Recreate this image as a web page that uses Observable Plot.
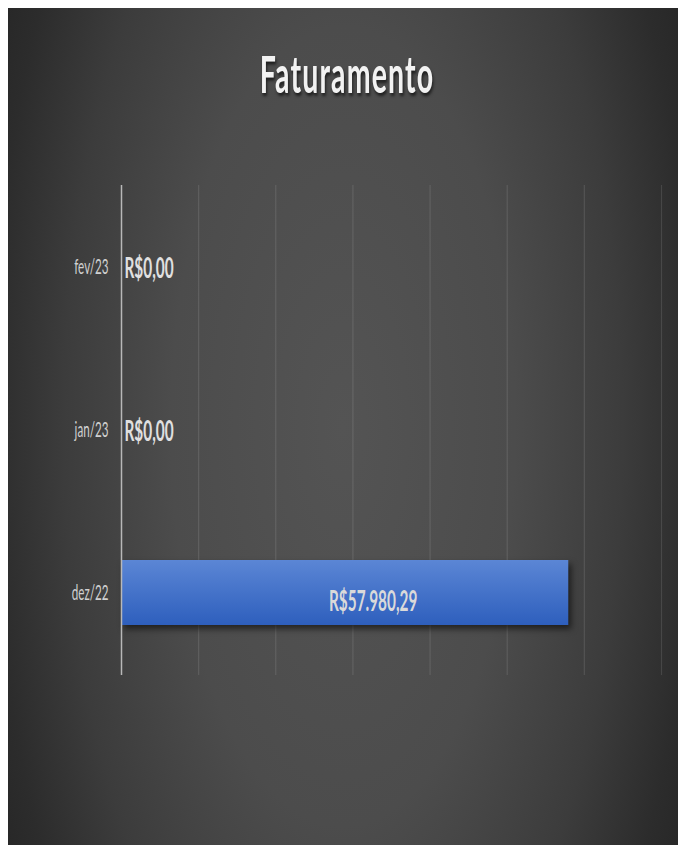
<!DOCTYPE html>
<html>
<head>
<meta charset="utf-8">
<script src="https://cdn.jsdelivr.net/npm/d3@7"></script>
<script src="https://cdn.jsdelivr.net/npm/@observablehq/plot@0.6"></script>
<style>
  body { margin: 0; background: #ffffff; }
  #wrap { position: relative; width: 678px; height: 845px; overflow: hidden; }
  #bg {
    position: absolute; left: 8px; top: 8px; width: 670px; height: 837px;
    background: radial-gradient(ellipse 430px 1000px at 50% 50%, #545454 0%, #4c4c4c 40%, #3c3c3c 65%, #2c2c2c 82%, #212121 100%);
  }
  #title {
    position: absolute; left: 12px; top: 48px; width: 670px;
    text-align: center; font-family: Lato, "Open Sans", sans-serif; font-weight: 700;
    font-size: 51px; line-height: 51px; color: #f2f2f2; letter-spacing: 2px;
    transform: scaleX(0.56); transform-origin: 50% 50%;
    text-shadow: 2px 3px 4px rgba(0,0,0,0.6);
  }
  #chart { position: absolute; left: 0; top: 0; }
</style>
</head>
<body>
<div id="wrap">
  <div id="bg"></div>
  <div id="chart"></div>
  <div id="title">Faturamento</div>
</div>
<script>
const categories = ["fev/23", "jan/23", "dez/22"];
const values = [0, 0, 57980.29];
const xTicks = [0, 10000, 20000, 30000, 40000, 50000, 60000, 70000];

const data = categories.map((c, i) => ({ month: c, value: values[i] }));

function brl(v) {
  const [i, d] = v.toFixed(2).split(".");
  return "R$" + i.replace(/\B(?=(\d{3})+(?!\d))/g, ".") + "," + d;
}

const plot = Plot.plot({
  width: 678,
  height: 845,
  marginLeft: 121,
  marginRight: 17,
  marginTop: 185,
  marginBottom: 170,
  style: { background: "transparent", fontFamily: "Lato, 'Open Sans', sans-serif", overflow: "visible" },
  x: { domain: [0, 70000], axis: null },
  y: { domain: categories, axis: null, paddingInner: 0.6, paddingOuter: 0.3 },
  marks: [
    Plot.ruleX(xTicks.filter(d => d > 0), { stroke: "#ffffff", strokeOpacity: 0.11, strokeWidth: 1.2 }),
    Plot.barX(data, { x: "value", y: "month", fill: "url(#barGrad)" }),
    Plot.ruleX([0], { stroke: "#b8b8b8", strokeWidth: 1.5 }),
    Plot.text(categories, {
      y: d => d, frameAnchor: "left", textAnchor: "end", dx: -13,
      fill: "#d0d0d0", fontSize: 22
    }),
    Plot.text(data.filter(d => d.value === 0), {
      x: "value", y: "month", text: d => brl(d.value), textAnchor: "start", dx: 3, dy: 2,
      fill: "#e0e0e0", fontSize: 29, fontWeight: "bold"
    }),
    Plot.text(data.filter(d => d.value > 0), {
      x: d => d.value / 2, y: "month", text: d => brl(d.value), textAnchor: "middle", dx: 28, dy: 9,
      fill: "#dadada", fontSize: 29, fontWeight: "bold"
    })
  ]
});

const svg = d3.select(plot);
svg.insert("defs", ":first-child").html(
  '<linearGradient id="barGrad" x1="0" y1="0" x2="0" y2="1">' +
  '<stop offset="0%" stop-color="#5b86d5"/>' +
  '<stop offset="100%" stop-color="#2e5fbd"/>' +
  '</linearGradient>'
);
svg.selectAll('g[aria-label="bar"] rect')
  .style("filter", "drop-shadow(3px 4px 3px rgba(0,0,0,0.55))");

// Condensed lettering like the original
const sx = 0.53;
svg.selectAll("text").each(function () {
  const el = d3.select(this);
  const t = el.attr("transform") || "";
  const x = parseFloat(el.attr("x")) || 0;
  el.attr("transform", `${t} translate(${x},0) scale(${sx},1) translate(${-x},0)`);
});

document.getElementById("chart").appendChild(plot);
</script>
</body>
</html>
